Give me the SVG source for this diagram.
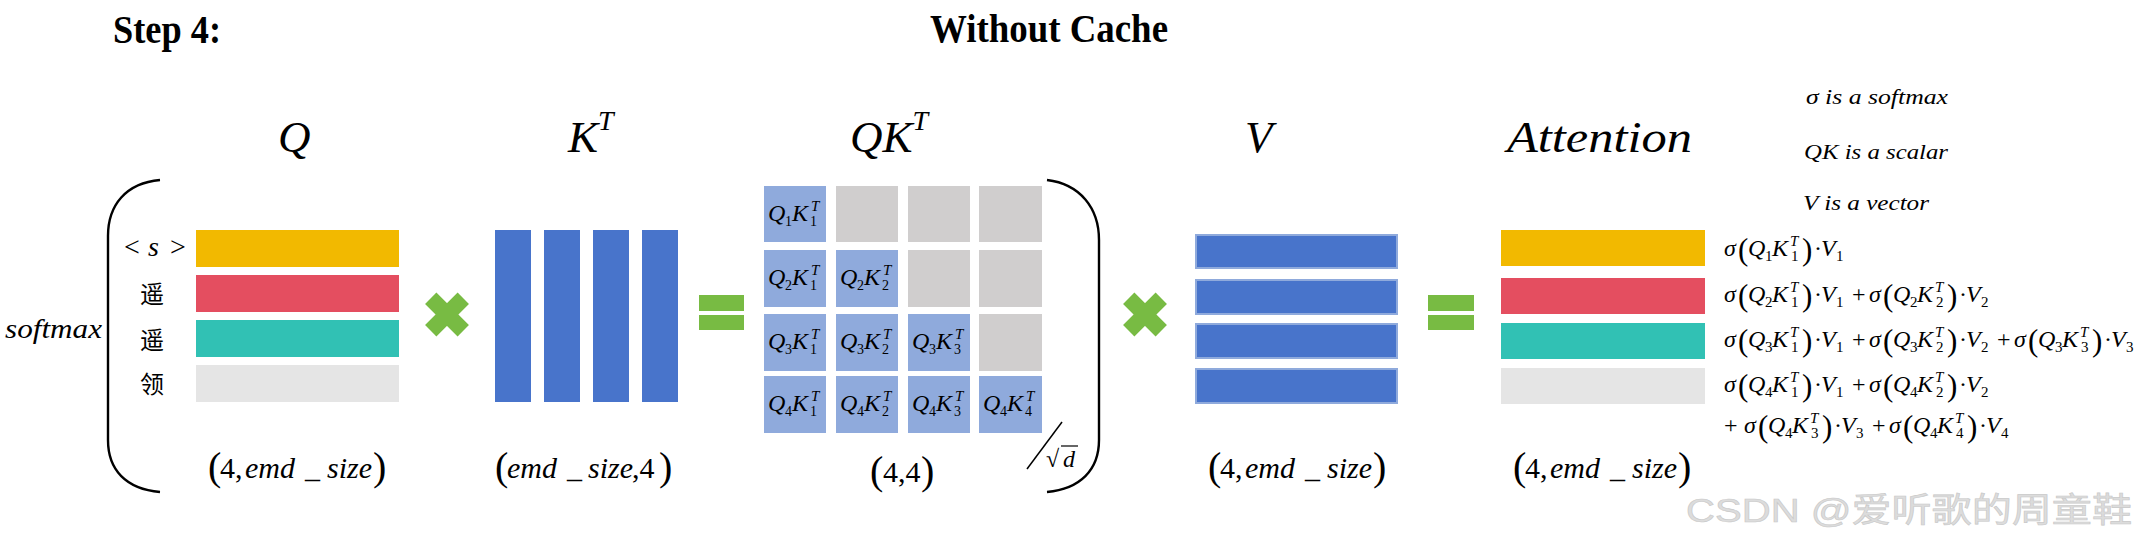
<svg xmlns="http://www.w3.org/2000/svg" width="2135" height="548" viewBox="0 0 2135 548" font-family="'Liberation Serif', Tinos, 'Times New Roman', 'DejaVu Serif', serif">
<style>
text{font-family:"Liberation Serif",Tinos,"Times New Roman","DejaVu Serif",serif;fill:#000}
.ti{font-weight:bold;font-size:40px}
.hd{font-style:italic;font-size:45px}
.hs{font-style:italic;font-size:28px}
.dim{font-size:30px}
.it{font-style:italic}
.bp{font-size:40px;font-style:normal}
.c{font-style:italic;font-size:24px}
.cs{font-style:normal;font-size:14px}
.ct{font-style:italic;font-size:15px}
.f{font-style:italic;font-size:24px}
.fs{font-style:normal;font-size:15px}
.fp{font-style:normal;font-size:31px}
.fn{font-style:normal}
.note{font-style:italic;font-size:21px}
.cjk{font-family:"Noto Sans CJK SC",sans-serif;font-size:24px}
.wm{font-family:"Liberation Sans","Noto Sans CJK SC",sans-serif;font-size:34px;fill:#dcdcdc;stroke:#c8c8c8;stroke-width:0.6}
.br{fill:none;stroke:#000;stroke-width:2.4}
.y{fill:#F2B900}.r{fill:#E44E60}.tl{fill:#31C1B4}.g{fill:#E5E5E5}
.kb{fill:#4874CB}
.vb{fill:#4874CB;stroke:#8FAADC;stroke-width:2}
.cb{fill:#8FAADC}.cg{fill:#D0CECE}
.op{fill:#78BB43}
</style>

<g id="title">
<text class="ti" x="113" y="43" textLength="108" lengthAdjust="spacingAndGlyphs">Step 4:</text>
<text class="ti" x="930" y="42" textLength="238" lengthAdjust="spacingAndGlyphs">Without Cache</text>
</g>

<g id="notes">
<text class="note" x="1806" y="104" textLength="142" lengthAdjust="spacingAndGlyphs">σ is a softmax</text>
<text class="note" x="1804" y="159" textLength="144" lengthAdjust="spacingAndGlyphs">QK is a scalar</text>
<text class="note" x="1803" y="210" textLength="126" lengthAdjust="spacingAndGlyphs">V is a vector</text>
</g>

<g id="node-Q">
<text class="hd" x="278" y="152">Q</text>
<path class="br" d="M160,180 C126,183 108,205 108,236 L108,440 C108,470 126,489 160,492"/>
<text class="it" x="5" y="338" font-size="27" textLength="97" lengthAdjust="spacingAndGlyphs">softmax</text>
<text font-size="28" x="124" y="256">&lt;<tspan class="it" x="148">s</tspan><tspan x="170">&gt;</tspan></text>
<text class="cjk" x="140" y="303">遥</text>
<text class="cjk" x="140" y="349">遥</text>
<text class="cjk" x="140" y="393">领</text>
<rect class="y" x="196" y="230" width="203" height="37"/>
<rect class="r" x="196" y="275" width="203" height="37"/>
<rect class="tl" x="196" y="320" width="203" height="37"/>
<rect class="g" x="196" y="365" width="203" height="37"/>
<text class="dim"><tspan class="bp" x="208" y="480">(</tspan><tspan x="220" y="478">4,</tspan><tspan class="it" x="245" y="478">emd</tspan><tspan x="305" y="478">_</tspan><tspan class="it" x="327" y="478">size</tspan><tspan class="bp" x="373" y="480">)</tspan></text>
</g>

<g id="node-KT">
<text class="hd" x="568" y="152">K<tspan class="hs" dy="-22">T</tspan></text>
<rect class="kb" x="495" y="230" width="36" height="172"/>
<rect class="kb" x="544" y="230" width="36" height="172"/>
<rect class="kb" x="593" y="230" width="36" height="172"/>
<rect class="kb" x="642" y="230" width="36" height="172"/>
<text class="dim"><tspan class="bp" x="495" y="480">(</tspan><tspan class="it" x="507" y="478">emd</tspan><tspan x="567" y="478">_</tspan><tspan class="it" x="588" y="478">size</tspan><tspan x="632" y="478">,4</tspan><tspan class="bp" x="659" y="480">)</tspan></text>
</g>

<g id="node-QKT">
<text class="hd" x="850" y="152">QK<tspan class="hs" dy="-22">T</tspan></text>
<g id="cells-bg">
<rect class="cb" x="764" y="186" width="62" height="56"/>
<rect class="cg" x="836" y="186" width="62" height="56"/>
<rect class="cg" x="908" y="186" width="62" height="56"/>
<rect class="cg" x="979" y="186" width="63" height="56"/>
<rect class="cb" x="764" y="250" width="62" height="57"/>
<rect class="cb" x="836" y="250" width="62" height="57"/>
<rect class="cg" x="908" y="250" width="62" height="57"/>
<rect class="cg" x="979" y="250" width="63" height="57"/>
<rect class="cb" x="764" y="314" width="62" height="57"/>
<rect class="cb" x="836" y="314" width="62" height="57"/>
<rect class="cb" x="908" y="314" width="62" height="57"/>
<rect class="cg" x="979" y="314" width="63" height="57"/>
<rect class="cb" x="764" y="376" width="62" height="57"/>
<rect class="cb" x="836" y="376" width="62" height="57"/>
<rect class="cb" x="908" y="376" width="62" height="57"/>
<rect class="cb" x="979" y="376" width="63" height="57"/>
</g>
<g id="cells-text">
<g transform="translate(768,221)"><text class="c"><tspan x="0" y="0">Q</tspan><tspan class="cs" x="17" y="5">1</tspan><tspan x="24" y="0">K</tspan><tspan class="ct" x="43" y="-10">T</tspan><tspan class="cs" x="42" y="5">1</tspan></text></g>
<g transform="translate(768,285)"><text class="c"><tspan x="0" y="0">Q</tspan><tspan class="cs" x="17" y="5">2</tspan><tspan x="24" y="0">K</tspan><tspan class="ct" x="43" y="-10">T</tspan><tspan class="cs" x="42" y="5">1</tspan></text></g>
<g transform="translate(840,285)"><text class="c"><tspan x="0" y="0">Q</tspan><tspan class="cs" x="17" y="5">2</tspan><tspan x="24" y="0">K</tspan><tspan class="ct" x="43" y="-10">T</tspan><tspan class="cs" x="42" y="5">2</tspan></text></g>
<g transform="translate(768,349)"><text class="c"><tspan x="0" y="0">Q</tspan><tspan class="cs" x="17" y="5">3</tspan><tspan x="24" y="0">K</tspan><tspan class="ct" x="43" y="-10">T</tspan><tspan class="cs" x="42" y="5">1</tspan></text></g>
<g transform="translate(840,349)"><text class="c"><tspan x="0" y="0">Q</tspan><tspan class="cs" x="17" y="5">3</tspan><tspan x="24" y="0">K</tspan><tspan class="ct" x="43" y="-10">T</tspan><tspan class="cs" x="42" y="5">2</tspan></text></g>
<g transform="translate(912,349)"><text class="c"><tspan x="0" y="0">Q</tspan><tspan class="cs" x="17" y="5">3</tspan><tspan x="24" y="0">K</tspan><tspan class="ct" x="43" y="-10">T</tspan><tspan class="cs" x="42" y="5">3</tspan></text></g>
<g transform="translate(768,411)"><text class="c"><tspan x="0" y="0">Q</tspan><tspan class="cs" x="17" y="5">4</tspan><tspan x="24" y="0">K</tspan><tspan class="ct" x="43" y="-10">T</tspan><tspan class="cs" x="42" y="5">1</tspan></text></g>
<g transform="translate(840,411)"><text class="c"><tspan x="0" y="0">Q</tspan><tspan class="cs" x="17" y="5">4</tspan><tspan x="24" y="0">K</tspan><tspan class="ct" x="43" y="-10">T</tspan><tspan class="cs" x="42" y="5">2</tspan></text></g>
<g transform="translate(912,411)"><text class="c"><tspan x="0" y="0">Q</tspan><tspan class="cs" x="17" y="5">4</tspan><tspan x="24" y="0">K</tspan><tspan class="ct" x="43" y="-10">T</tspan><tspan class="cs" x="42" y="5">3</tspan></text></g>
<g transform="translate(983,411)"><text class="c"><tspan x="0" y="0">Q</tspan><tspan class="cs" x="17" y="5">4</tspan><tspan x="24" y="0">K</tspan><tspan class="ct" x="43" y="-10">T</tspan><tspan class="cs" x="42" y="5">4</tspan></text></g>
</g>
<path class="br" d="M1047,180 C1080,184 1099,208 1099,240 L1099,440 C1099,470 1080,489 1047,492"/>
<line x1="1027" y1="469" x2="1062" y2="422" stroke="#000" stroke-width="1.5"/>
<text x="1046" y="467" font-size="24">√<tspan class="it" x="1063">d</tspan></text>
<line x1="1061" y1="446" x2="1078" y2="446" stroke="#000" stroke-width="1.2"/>
<text class="dim"><tspan class="bp" x="870" y="484">(</tspan><tspan x="883" y="482">4,4</tspan><tspan class="bp" x="921" y="484">)</tspan></text>
</g>

<g id="node-V">
<text class="hd" x="1245" y="152">V</text>
<rect class="vb" x="1196" y="235" width="201" height="33"/>
<rect class="vb" x="1196" y="280" width="201" height="34"/>
<rect class="vb" x="1196" y="324" width="201" height="34"/>
<rect class="vb" x="1196" y="369" width="201" height="34"/>
<text class="dim"><tspan class="bp" x="1208" y="480">(</tspan><tspan x="1220" y="478">4,</tspan><tspan class="it" x="1245" y="478">emd</tspan><tspan x="1305" y="478">_</tspan><tspan class="it" x="1327" y="478">size</tspan><tspan class="bp" x="1373" y="480">)</tspan></text>
</g>

<g id="node-Attention">
<text class="hd" x="1507" y="152" textLength="185" lengthAdjust="spacingAndGlyphs">Attention</text>
<rect class="y" x="1501" y="230" width="204" height="36"/>
<rect class="r" x="1501" y="278" width="204" height="36"/>
<rect class="tl" x="1501" y="323" width="204" height="36"/>
<rect class="g" x="1501" y="368" width="204" height="36"/>
<text class="dim"><tspan class="bp" x="1513" y="480">(</tspan><tspan x="1525" y="478">4,</tspan><tspan class="it" x="1550" y="478">emd</tspan><tspan x="1610" y="478">_</tspan><tspan class="it" x="1632" y="478">size</tspan><tspan class="bp" x="1678" y="480">)</tspan></text>
</g>

<g id="formulas">
<g transform="translate(1724,256)"><text class="f"><tspan x="0" y="0">σ</tspan><tspan class="fp" x="14" y="3.5">(</tspan><tspan x="24" y="0">Q</tspan><tspan class="fs" x="41" y="5">1</tspan><tspan x="48" y="0">K</tspan><tspan x="66" y="-10" font-size="15">T</tspan><tspan class="fs" x="67" y="5">1</tspan><tspan class="fp" x="78" y="3.5">)</tspan><tspan class="fn" x="90" y="0">·</tspan><tspan x="97" y="0">V</tspan><tspan class="fs" x="112" y="5">1</tspan></text></g>

<g transform="translate(1724,302)"><text class="f"><tspan x="0" y="0">σ</tspan><tspan class="fp" x="14" y="3.5">(</tspan><tspan x="24" y="0">Q</tspan><tspan class="fs" x="41" y="5">2</tspan><tspan x="48" y="0">K</tspan><tspan x="66" y="-10" font-size="15">T</tspan><tspan class="fs" x="67" y="5">1</tspan><tspan class="fp" x="78" y="3.5">)</tspan><tspan class="fn" x="90" y="0">·</tspan><tspan x="97" y="0">V</tspan><tspan class="fs" x="112" y="5">1</tspan><tspan class="fn" x="128" y="0">+</tspan></text></g>
<g transform="translate(1869,302)"><text class="f"><tspan x="0" y="0">σ</tspan><tspan class="fp" x="14" y="3.5">(</tspan><tspan x="24" y="0">Q</tspan><tspan class="fs" x="41" y="5">2</tspan><tspan x="48" y="0">K</tspan><tspan x="66" y="-10" font-size="15">T</tspan><tspan class="fs" x="67" y="5">2</tspan><tspan class="fp" x="78" y="3.5">)</tspan><tspan class="fn" x="90" y="0">·</tspan><tspan x="97" y="0">V</tspan><tspan class="fs" x="112" y="5">2</tspan></text></g>

<g transform="translate(1724,347)"><text class="f"><tspan x="0" y="0">σ</tspan><tspan class="fp" x="14" y="3.5">(</tspan><tspan x="24" y="0">Q</tspan><tspan class="fs" x="41" y="5">3</tspan><tspan x="48" y="0">K</tspan><tspan x="66" y="-10" font-size="15">T</tspan><tspan class="fs" x="67" y="5">1</tspan><tspan class="fp" x="78" y="3.5">)</tspan><tspan class="fn" x="90" y="0">·</tspan><tspan x="97" y="0">V</tspan><tspan class="fs" x="112" y="5">1</tspan><tspan class="fn" x="128" y="0">+</tspan></text></g>
<g transform="translate(1869,347)"><text class="f"><tspan x="0" y="0">σ</tspan><tspan class="fp" x="14" y="3.5">(</tspan><tspan x="24" y="0">Q</tspan><tspan class="fs" x="41" y="5">3</tspan><tspan x="48" y="0">K</tspan><tspan x="66" y="-10" font-size="15">T</tspan><tspan class="fs" x="67" y="5">2</tspan><tspan class="fp" x="78" y="3.5">)</tspan><tspan class="fn" x="90" y="0">·</tspan><tspan x="97" y="0">V</tspan><tspan class="fs" x="112" y="5">2</tspan><tspan class="fn" x="128" y="0">+</tspan></text></g>
<g transform="translate(2014,347)"><text class="f"><tspan x="0" y="0">σ</tspan><tspan class="fp" x="14" y="3.5">(</tspan><tspan x="24" y="0">Q</tspan><tspan class="fs" x="41" y="5">3</tspan><tspan x="48" y="0">K</tspan><tspan x="66" y="-10" font-size="15">T</tspan><tspan class="fs" x="67" y="5">3</tspan><tspan class="fp" x="78" y="3.5">)</tspan><tspan class="fn" x="90" y="0">·</tspan><tspan x="97" y="0">V</tspan><tspan class="fs" x="112" y="5">3</tspan></text></g>

<g transform="translate(1724,392)"><text class="f"><tspan x="0" y="0">σ</tspan><tspan class="fp" x="14" y="3.5">(</tspan><tspan x="24" y="0">Q</tspan><tspan class="fs" x="41" y="5">4</tspan><tspan x="48" y="0">K</tspan><tspan x="66" y="-10" font-size="15">T</tspan><tspan class="fs" x="67" y="5">1</tspan><tspan class="fp" x="78" y="3.5">)</tspan><tspan class="fn" x="90" y="0">·</tspan><tspan x="97" y="0">V</tspan><tspan class="fs" x="112" y="5">1</tspan><tspan class="fn" x="128" y="0">+</tspan></text></g>
<g transform="translate(1869,392)"><text class="f"><tspan x="0" y="0">σ</tspan><tspan class="fp" x="14" y="3.5">(</tspan><tspan x="24" y="0">Q</tspan><tspan class="fs" x="41" y="5">4</tspan><tspan x="48" y="0">K</tspan><tspan x="66" y="-10" font-size="15">T</tspan><tspan class="fs" x="67" y="5">2</tspan><tspan class="fp" x="78" y="3.5">)</tspan><tspan class="fn" x="90" y="0">·</tspan><tspan x="97" y="0">V</tspan><tspan class="fs" x="112" y="5">2</tspan></text></g>

<g transform="translate(1744,433)"><text class="f"><tspan class="fn" x="-20" y="0">+</tspan><tspan x="0" y="0">σ</tspan><tspan class="fp" x="14" y="3.5">(</tspan><tspan x="24" y="0">Q</tspan><tspan class="fs" x="41" y="5">4</tspan><tspan x="48" y="0">K</tspan><tspan x="66" y="-10" font-size="15">T</tspan><tspan class="fs" x="67" y="5">3</tspan><tspan class="fp" x="78" y="3.5">)</tspan><tspan class="fn" x="90" y="0">·</tspan><tspan x="97" y="0">V</tspan><tspan class="fs" x="112" y="5">3</tspan><tspan class="fn" x="128" y="0">+</tspan></text></g>
<g transform="translate(1889,433)"><text class="f"><tspan x="0" y="0">σ</tspan><tspan class="fp" x="14" y="3.5">(</tspan><tspan x="24" y="0">Q</tspan><tspan class="fs" x="41" y="5">4</tspan><tspan x="48" y="0">K</tspan><tspan x="66" y="-10" font-size="15">T</tspan><tspan class="fs" x="67" y="5">4</tspan><tspan class="fp" x="78" y="3.5">)</tspan><tspan class="fn" x="90" y="0">·</tspan><tspan x="97" y="0">V</tspan><tspan class="fs" x="112" y="5">4</tspan></text></g>
</g>

<g id="operators">
<g class="op" transform="translate(447,314.5) rotate(45)"><rect x="-23" y="-8" width="46" height="16"/><rect x="-8" y="-23" width="16" height="46"/></g>
<g class="op"><rect x="699" y="295" width="45" height="16"/><rect x="699" y="315" width="45" height="15"/></g>
<g class="op" transform="translate(1145,314.5) rotate(45)"><rect x="-23" y="-8" width="46" height="16"/><rect x="-8" y="-23" width="16" height="46"/></g>
<g class="op"><rect x="1428" y="295" width="46" height="16"/><rect x="1428" y="315" width="46" height="15"/></g>
</g>

<g id="connectors"/>

<text class="wm" x="1686" y="522" textLength="446" lengthAdjust="spacingAndGlyphs">CSDN @爱听歌的周童鞋</text>
</svg>
